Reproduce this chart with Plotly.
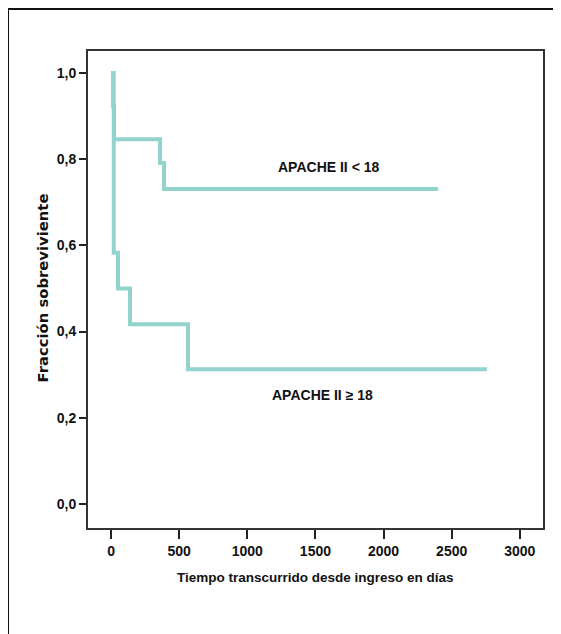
import plotly.graph_objects as go

# ---- data ----
low_days = [0, 15, 22, 360, 389, 2400]
low_surv = [1.0, 0.923, 0.846, 0.791, 0.731, 0.731]
high_days = [0, 20, 51, 139, 565, 2758]
high_surv = [1.0, 0.583, 0.5, 0.417, 0.3125, 0.3125]
low_label = "APACHE II < 18"
high_label = "APACHE II ≥ 18"
x_ticks = [0, 500, 1000, 1500, 2000, 2500, 3000]
y_ticks = [0.0, 0.2, 0.4, 0.6, 0.8, 1.0]
x_title = "Tiempo transcurrido desde ingreso en días"
y_title = "Fracción sobreviviente"

# page body has an 8px margin: work in screen pixels and shift
OFF = 8
W, H = 561 - OFF, 634 - OFF
L, R, T, B = 88 - OFF, 543 - OFF, 51 - OFF, 528 - OFF


def px(xs):
    return (xs - OFF - L) / (R - L)


def py(ys):
    return (B - (ys - OFF)) / (B - T)


color = "#93D3CE"
font_main = "Liberation Sans, Arial, sans-serif"

fig = go.Figure()
for d, s in [(low_days, low_surv), (high_days, high_surv)]:
    fig.add_trace(go.Scatter(x=d, y=s, mode="lines", line=dict(shape="hv", color=color, width=4),
                             showlegend=False, hoverinfo="skip"))

axis_common = dict(showgrid=False, zeroline=False, showline=True, linecolor="#333333", linewidth=2,
                   mirror=True, ticks="outside", tickcolor="#222222", tickwidth=2,
                   tickfont=dict(family=font_main, size=14, color="#111111", weight="bold"))

fig.update_xaxes(range=[-169, 3170], tickvals=x_ticks, tickformat="d", ticklen=9, **axis_common)
fig.update_yaxes(range=[-0.0557, 1.051], tickvals=y_ticks, tickformat=".1f", ticklen=7, **axis_common)

fig.add_annotation(x=px(328), y=py(157), xref="paper", yref="paper", text=f"<b>{low_label}</b>",
                   showarrow=False, font=dict(family=font_main, size=14, color="#111111"))
fig.add_annotation(x=px(322), y=py(405), xref="paper", yref="paper", text=f"<b>{high_label}</b>",
                   showarrow=False, font=dict(family=font_main, size=14, color="#111111"))
fig.add_annotation(x=px(315), y=py(587), xref="paper", yref="paper", text=f"<b>{x_title}</b>",
                   showarrow=False, font=dict(family=font_main, size=13.5, color="#111111"))
fig.add_annotation(x=px(31), y=py(288), xref="paper", yref="paper", text=f"<b>{y_title}</b>",
                   showarrow=False, textangle=-90,
                   font=dict(family="DejaVu Sans, sans-serif", size=14.8, color="#111111"))

# outer frame (left and top edges)
fig.add_shape(type="line", xref="paper", yref="paper", x0=px(8), y0=py(650), x1=px(8), y1=py(9),
              line=dict(color="#111111", width=2))
fig.add_shape(type="line", xref="paper", yref="paper", x0=px(8), y0=py(9), x1=px(580), y1=py(9),
              line=dict(color="#111111", width=2))

fig.update_layout(width=W, height=H, margin=dict(l=L, r=W - R, t=T, b=H - B),
                  plot_bgcolor="white", paper_bgcolor="white", separators=",.")

fig.write_html("out.html")
